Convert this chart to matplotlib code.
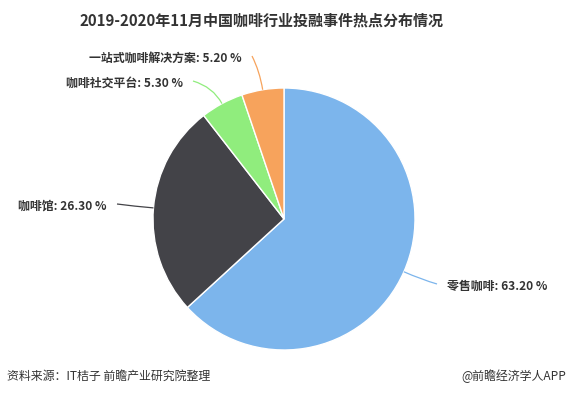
import matplotlib
matplotlib.use("Agg")
import matplotlib.pyplot as plt
import numpy as np
from matplotlib.path import Path
from matplotlib.patches import PathPatch

plt.rcParams['font.family'] = ['Noto Sans CJK SC', 'DejaVu Sans']

categories = ['零售咖啡', '咖啡馆', '咖啡社交平台', '一站式咖啡解决方案']
values = [63.20, 26.30, 5.30, 5.20]
colors = ['#7cb5ec', '#434348', '#90ed7d', '#f7a35c']
title = '2019-2020年11月中国咖啡行业投融事件热点分布情况'
source = '资料来源：IT桔子 前瞻产业研究院整理'
brand = '@前瞻经济学人APP'

W, H = 570, 396
fig = plt.figure(figsize=(W / 100, H / 100), dpi=100)
fig.patch.set_facecolor('white')

# pie geometry in pixels
cx, cy, R = 284, 219, 131
ax = fig.add_axes([(cx - R) / W, (H - cy - R) / H, 2 * R / W, 2 * R / H])

wedges, _ = ax.pie(values, colors=colors, startangle=90, counterclock=False,
                   radius=1, wedgeprops=dict(edgecolor='white', linewidth=1))
ax.set_xlim(-1, 1)
ax.set_ylim(-1, 1)
ax.axis('off')

def px2d(px, py):
    return ((px - cx) / R, (cy - py) / R)

# label layout (pixel anchors) per category
label_pos = {
    '零售咖啡': (447, 286, 'left'),
    '咖啡馆': (107, 206, 'right'),
    '咖啡社交平台': (183, 83, 'right'),
    '一站式咖啡解决方案': (242, 58, 'right'),
}

for w, cat, val, col in zip(wedges, categories, values, colors):
    ang = np.deg2rad((w.theta1 + w.theta2) / 2)
    d = np.array([np.cos(ang), np.sin(ang)])
    start = d * 1.0
    ctrl = d * (150 / R)
    lx, ly, ha = label_pos[cat]
    ex = lx + (10 if ha == 'right' else -10)
    end = np.array(px2d(ex, ly - 2))
    path = Path([start, ctrl, end], [Path.MOVETO, Path.CURVE3, Path.CURVE3])
    ax.add_patch(PathPatch(path, fc='none', ec=col, lw=0.9, clip_on=False))
    tx, ty = px2d(lx, ly)
    ax.text(tx, ty, f'{cat}: {val:.2f} %', ha=ha, va='center',
            fontsize=8.6, fontweight='bold', color='#333333', clip_on=False)

fig.text(261 / W, 1 - 20 / H, title, ha='center', va='center',
         fontsize=10.8, fontweight='bold', color='#333333')
fig.text(7 / W, 1 - 376 / H, source, ha='left', va='center',
         fontsize=8.6, color='#333333')
fig.text(566 / W, 1 - 376 / H, brand, ha='right', va='center',
         fontsize=8.6, color='#333333')

fig.savefig('out.png', dpi=100, facecolor='white')
